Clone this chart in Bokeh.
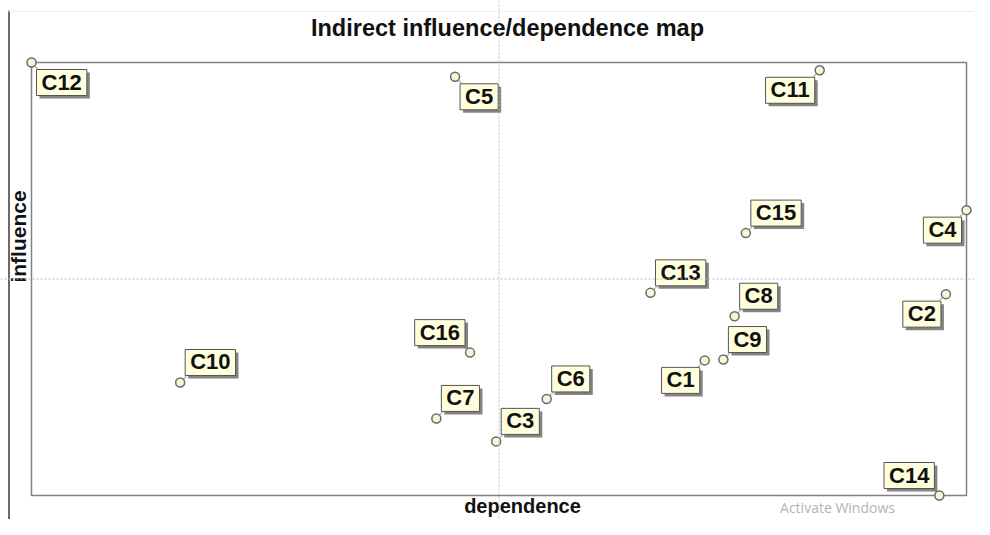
import math
from bokeh.plotting import figure
from bokeh.models import Range1d, ColumnDataSource, Span
from bokeh.core.properties import value
from bokeh.embed import file_html
from bokeh.resources import INLINE

# ---- data (normalised indirect dependence / influence, 0-100 of the map extent) ----
variables = ["C1", "C2", "C3", "C4", "C5", "C6", "C7", "C8",
             "C9", "C10", "C11", "C12", "C13", "C14", "C15", "C16"]
dependence = [72.0, 97.8, 49.7, 100.0, 45.3, 55.1, 43.3, 75.2,
              74.0, 15.9, 84.3, 0.0, 66.2, 97.1, 76.4, 46.9]
influence = [31.2, 46.5, 12.5, 65.9, 96.7, 22.3, 17.8, 41.4,
             31.4, 26.1, 98.2, 100.0, 46.8, 0.0, 60.6, 33.0]

# label placement: horizontal side (+1 right / -1 left), vertical side (+1 below / -1 above)
label_hside = [-1, -1, 1, -1, 1, 1, 1, 1, 1, 1, -1, 1, 1, -1, 1, -1]
label_vside = [1, 1, -1, 1, 1, -1, -1, -1, -1, -1, 1, 1, -1, -1, -1, -1]

# ---- layout (picture pixels) ----
W, H = 974, 519
OX, OY = 0, 0
FL, FR, FT, FB = 31, 966, 62, 495

xmin, xmax = min(dependence), max(dependence)
ymin, ymax = min(influence), max(influence)
sx = (xmax - xmin) / (FR - FL)
sy = (ymax - ymin) / (FB - FT)
x_start = xmin - (FL - OX) * sx
x_end = xmax + (OX + W - FR) * sx
y_end = ymax + (FT - OY) * sy
y_start = ymin - (OY + H - FB) * sy


def px(x):
    return xmin + (x - FL) * sx


def py(y):
    return ymin + (FB - y) * sy


p = figure(width=W, height=H, x_range=Range1d(x_start, x_end), y_range=Range1d(y_start, y_end),
           output_backend="svg", toolbar_location=None, min_border=0,
           x_axis_location=None, y_axis_location=None)
p.grid.visible = False
p.outline_line_color = None
p.background_fill_color = "white"
p.border_fill_color = "white"

# page decorations
p.segment(x0=[px(8.5)], y0=[py(10)], x1=[px(8.5)], y1=[py(519)], line_color="#6a6a6a", line_width=2)
p.segment(x0=[px(8)], y0=[py(11)], x1=[px(974)], y1=[py(11)], line_color="#ececec", line_width=1)

# map frame
p.quad(left=[xmin], right=[xmax], bottom=[ymin], top=[ymax], fill_color=None,
       line_color="#808080", line_width=1.5)

# crosshair at the middle of each axis
p.add_layout(Span(location=(xmin + xmax) / 2, dimension="height", line_color="#bdbdbd",
                  line_dash="2 2", line_width=1))
p.add_layout(Span(location=(ymin + ymax) / 2, dimension="width", line_color="#bdbdbd",
                  line_dash="2 2", line_width=1))

gx, gy = 5, 7
anchors, xo, yo, angles = [], [], [], []
for h, v in zip(label_hside, label_vside):
    anchors.append(("top" if v > 0 else "bottom") + "_" + ("left" if h > 0 else "right"))
    xo.append(h * gx)
    yo.append(v * gy)
    angles.append(math.atan2(-v, h))

src = ColumnDataSource(dict(x=dependence, y=influence, name=variables, anchor=anchors,
                            xo=xo, yo=yo, xs=[a + 3 for a in xo], ys=[b + 3 for b in yo],
                            ang=angles))

# connectors
p.ray(x="x", y="y", length=9, length_units="screen", angle="ang", source=src,
      line_color="#bdbdbd", line_width=1.5)

font = value("Liberation Sans")
pad = dict(left=5, right=5, top=0, bottom=1)
# shadow
p.text(x="x", y="y", text="name", anchor="anchor", x_offset="xs", y_offset="ys", source=src,
       text_font=font, text_font_style="bold", text_font_size="22px", text_alpha=0,
       padding=pad, background_fill_color="#6e6e6e", background_fill_alpha=0.85)
# label boxes
p.text(x="x", y="y", text="name", anchor="anchor", x_offset="xo", y_offset="yo", source=src,
       text_font=font, text_font_style="bold", text_font_size="22px", text_color="#111111",
       padding=pad, background_fill_color="#ffffde", border_line_color="#555555",
       border_line_width=1)

# points
p.scatter(x="x", y="y", source=src, size=9, fill_color="#f7f7d8", line_color="#6a6a6a",
          line_width=1.5)

# titles
p.text(x=[px(507)], y=[py(27)], text=["Indirect influence/dependence map"], text_font=font,
       text_font_style="bold", text_font_size="23.5px", text_align="center",
       text_baseline="middle", text_color="#111111")
p.text(x=[px(522)], y=[py(505)], text=["dependence"], text_font=font,
       text_font_style="bold", text_font_size="20px", text_align="center",
       text_baseline="middle", text_color="#111111")
p.text(x=[px(18)], y=[py(236)], text=["influence"], text_font=font, angle=math.pi / 2,
       text_font_style="bold", text_font_size="21px", text_align="center",
       text_baseline="middle", text_color="#111111")
p.text(x=[px(837)], y=[py(507)], text=["Activate Windows"], text_font=value("Open Sans"),
       text_font_size="14px", text_align="center", text_baseline="middle",
       text_color="#b4b4b4")

open("out.html", "w").write(file_html(p, INLINE))
